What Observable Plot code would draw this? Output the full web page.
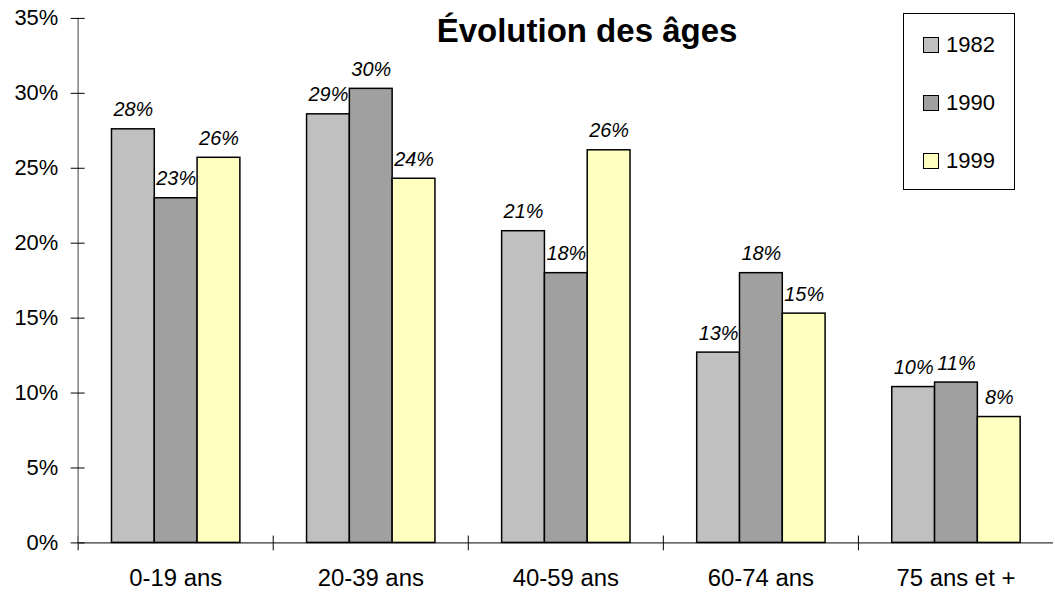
<!DOCTYPE html>
<html>
<head>
<meta charset="utf-8">
<script src="https://cdn.jsdelivr.net/npm/d3@7"></script>
<script src="https://cdn.jsdelivr.net/npm/@observablehq/plot@0.6"></script>
<style>
html, body { margin: 0; padding: 0; background: #fff; overflow: hidden; }
#wrap { position: relative; width: 1055px; height: 593px; overflow: hidden; font-family: "Liberation Sans", Arial, sans-serif; color: #000; }
#chart { position: absolute; left: 0; top: 0; }
#title { position: absolute; left: 337px; width: 500px; top: 14px; text-align: center; font-weight: bold; font-size: 33px; line-height: 33px; white-space: nowrap; }
#legend { position: absolute; left: 903px; top: 13px; width: 112px; height: 177px; box-sizing: border-box; border: 1px solid #000; background: #fff; padding-top: 2px; }
.item { display: flex; align-items: center; height: 58px; padding-left: 19px; font-size: 22px; }
.sw { width: 16px; height: 16px; box-sizing: border-box; border: 1px solid #000; margin-right: 7px; flex: none; }
</style>
</head>
<body>
<div id="wrap">
  <div id="chart"></div>
  <div id="title"></div>
  <div id="legend"></div>
</div>
<script>
// ---- Data ----
const categories = ["0-19 ans", "20-39 ans", "40-59 ans", "60-74 ans", "75 ans et +"];
const years = ["1982", "1990", "1999"];
const values1982 = [0.276, 0.286, 0.208, 0.127, 0.104];
const values1990 = [0.230, 0.303, 0.180, 0.180, 0.107];
const values1999 = [0.257, 0.243, 0.262, 0.153, 0.084];
const yTicks = [0, 0.05, 0.10, 0.15, 0.20, 0.25, 0.30, 0.35];
const titleText = "Évolution des âges";

// ---- Styles ----
const colors = ["#C0C0C0", "#A0A0A0", "#FFFFC0"];
const font = "'Liberation Sans', Arial, sans-serif";

const series = [values1982, values1990, values1999];
const rows = [];
categories.forEach((cat, i) => {
  years.forEach((year, j) => rows.push({cat, year, value: series[j][i]}));
});

const pct = d3.format(".0%");
const tickShape = {
  draw(context, l) {
    context.moveTo(0, l / 2);
    context.lineTo(0, -l / 2);
  }
};

const chart = Plot.plot({
  width: 1060,
  height: 593,
  marginLeft: 77,
  marginRight: 1,
  marginTop: 18,
  marginBottom: 48,
  style: {fontFamily: font, background: "transparent", color: "#000", overflow: "visible"},
  fx: {domain: categories, padding: 0},
  x: {domain: years, paddingInner: 0, paddingOuter: 0.75, axis: null},
  y: {domain: [0, 0.35]},
  color: {domain: years, range: colors},
  marks: [
    Plot.barY(rows, {fx: "cat", x: "year", y: "value", fill: "year", stroke: "#000", strokeWidth: 1.5}),
    Plot.text(rows, {
      fx: "cat", x: "year", y: "value", text: d => pct(d.value),
      dy: -13, lineAnchor: "bottom", fontStyle: "italic", fontSize: 20, fill: "#000"
    }),
    Plot.ruleY([0], {stroke: "#000", strokeWidth: 1}),
    Plot.vector([0], {frameAnchor: "bottom-left", length: 14, rotate: 0, anchor: "start", shape: tickShape, stroke: "#000", strokeWidth: 1}),
    Plot.frame({anchor: "left", facetAnchor: "left", stroke: "#808080", strokeWidth: 1.5}),
    Plot.axisY(yTicks, {
      tickSize: 14, dx: 7, tickPadding: 13, tickFormat: pct,
      fontSize: 22, label: null, stroke: "#000", fill: "#000"
    }),
    Plot.axisFx({anchor: "bottom", tickSize: 0, tickPadding: 26, fontSize: 24, label: null, fill: "#000"})
  ]
});

document.getElementById("chart").appendChild(chart);
document.getElementById("title").textContent = titleText;

const legend = document.getElementById("legend");
years.forEach((y, i) => {
  const item = document.createElement("div");
  item.className = "item";
  const sw = document.createElement("span");
  sw.className = "sw";
  sw.style.background = colors[i];
  const t = document.createElement("span");
  t.textContent = y;
  item.appendChild(sw);
  item.appendChild(t);
  legend.appendChild(item);
});
</script>
</body>
</html>
